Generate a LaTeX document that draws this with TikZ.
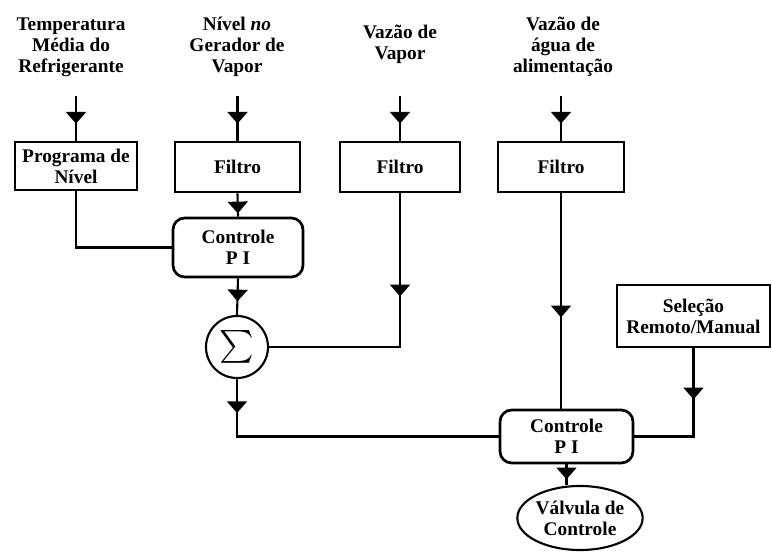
\documentclass[tikz,border=0pt]{standalone}
\usepackage{fontspec}
\setmainfont{Liberation Serif}
\usepackage{graphicx}
\usetikzlibrary{shapes.geometric, arrows.meta, decorations.markings}
\tikzstyle{block} = [rectangle, draw=black, line width=2.3pt, align=center, inner sep=2pt]
\tikzstyle{control} = [block, rounded corners=10pt]
\tikzstyle{signal} = [align=center, inner sep=0pt]
\tikzstyle{wire} = [line width=1.8pt]
\tikzset{arrowat/.style={postaction={decorate}, decoration={markings, mark=at position #1 with {\arrow{Triangle[width=17pt,length=10pt]}}}}}

\begin{document}
\begin{tikzpicture}[x=0.03cm, y=-0.03cm, every node/.style={font=\bfseries\fontsize{16.5}{18}\selectfont}]
    \useasboundingbox (0,0) rectangle (772,553);
    \node (tin) [signal] at (71,47) {Temperatura\\Média do\\Refrigerante};
    \node (nin) [signal] at (237,47) {Nível \textit{no}\\Gerador de\\Vapor};
    \node (vin) [signal] at (400,44) {Vazão de\\Vapor};
    \node (ain) [signal] at (563,47) {Vazão de\\água de\\alimentação};

    \node (prog) [block, minimum width=3.66cm, minimum height=1.44cm] at (76,166) {Programa de\\Nível};
    \node (filt1) [block, minimum width=3.75cm, minimum height=1.5cm] at (237.5,167) {Filtro};
    \node (filt2) [block, minimum width=3.6cm, minimum height=1.5cm] at (400,167) {Filtro};
    \node (filt3) [block, minimum width=3.78cm, minimum height=1.5cm] at (561,167) {Filtro};
    \node (pi1) [control, minimum width=3.9cm, minimum height=1.77cm] at (238,247.5) {Controle\\P I};
    \node (sum) [circle, draw=black, line width=1.8pt, minimum size=1.86cm, inner sep=0pt] at (237,347) {\normalsize\scalebox{2.8}{$\sum$}};
    \node (sel) [block, minimum width=4.59cm, minimum height=1.86cm] at (693.5,316) {Seleção\\Remoto/Manual};
    \node (pi2) [control, minimum width=3.99cm, minimum height=1.59cm] at (566.5,436.5) {Controle\\P I};
    \node (valve) [ellipse, draw=black, line width=1.8pt, minimum width=3.42cm, minimum height=1.92cm, inner sep=0pt, align=center] at (580,518) {Válvula de\\Controle};

    \foreach \b in {prog, filt1, filt2, filt3} {
        \path (\b.north) ++(0,-45) coordinate (\b-in);
        \draw [wire, arrowat=0.84cm] (\b-in) -- (\b.north);
    }
    \draw [wire] (prog.south) |- (pi1.west);
    \draw [wire, arrowat=0.6cm] (filt1.south) -- (pi1.north);
    \draw [wire, arrowat=0.69cm] (pi1.south) -- (sum.north);
    \draw [wire, arrowat=3.09cm] (filt2.south) |- (sum.east);
    \draw [wire, arrowat=1.02cm] (sum.south) |- (pi2.west);
    \draw [wire, arrowat=3.72cm] (filt3.south) -- (filt3.south |- pi2.north);
    \draw [wire, arrowat=1.53cm] (sel.south) |- (pi2.east);
    \draw [wire, arrowat=0.45cm] (pi2.south) -- (pi2.south |- valve.north);
\end{tikzpicture}
\end{document}
